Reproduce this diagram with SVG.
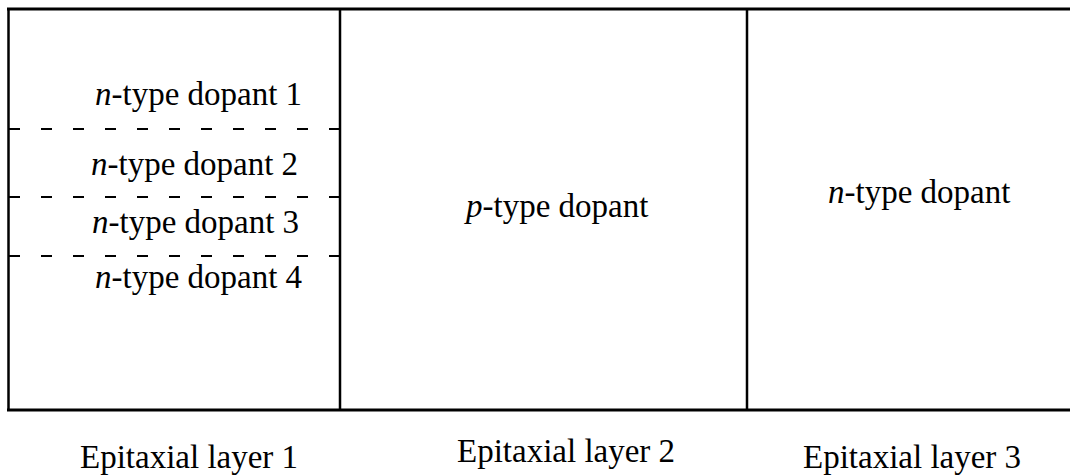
<svg xmlns="http://www.w3.org/2000/svg" width="1070" height="476" viewBox="0 0 1070 476">
<style>
.t{font-family:'Liberation Serif','DejaVu Serif',serif;font-size:33px;fill:#000}
.i{font-style:italic}
.solid{stroke:#000;stroke-width:3;fill:none}
.v{stroke:#000;stroke-width:2.5;fill:none}
.dash{stroke:#000;stroke-width:2;fill:none;stroke-dasharray:11 21}
</style>
<rect width="1070" height="476" fill="#fff"/>
<g id="connectors">
<line class="solid" x1="7" y1="9" x2="1070" y2="9"/>
<line class="solid" x1="7" y1="410" x2="1070" y2="410"/>
<line class="v" x1="8.5" y1="9" x2="8.5" y2="410"/>
<line class="v" x1="340" y1="9" x2="340" y2="410"/>
<line class="v" x1="747" y1="9" x2="747" y2="410"/>
<line class="dash" x1="9" y1="129" x2="340" y2="129"/>
<line class="dash" x1="9" y1="197" x2="340" y2="197"/>
<line class="dash" x1="9" y1="256" x2="340" y2="256"/>
</g>
<g id="layer1">
<text class="t" x="95" y="105"><tspan class="i">n</tspan>-type dopant 1</text>
<text class="t" x="91" y="175"><tspan class="i">n</tspan>-type dopant 2</text>
<text class="t" x="92" y="233"><tspan class="i">n</tspan>-type dopant 3</text>
<text class="t" x="95" y="288"><tspan class="i">n</tspan>-type dopant 4</text>
<text class="t" x="80" y="468">Epitaxial layer 1</text>
</g>
<g id="layer2">
<text class="t" x="466" y="217"><tspan class="i">p</tspan>-type dopant</text>
<text class="t" x="457" y="462">Epitaxial layer 2</text>
</g>
<g id="layer3">
<text class="t" x="828" y="203"><tspan class="i">n</tspan>-type dopant</text>
<text class="t" x="803" y="468">Epitaxial layer 3</text>
</g>
</svg>
